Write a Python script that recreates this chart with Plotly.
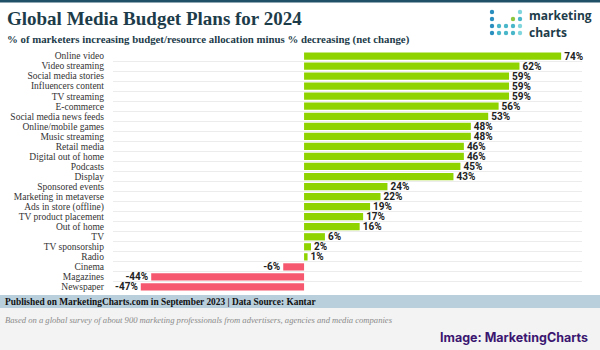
import plotly.graph_objects as go

categories = ["Online video", "Video streaming", "Social media stories", "Influencers content",
              "TV streaming", "E-commerce", "Social media news feeds", "Online/mobile games",
              "Music streaming", "Retail media", "Digital out of home", "Podcasts", "Display",
              "Sponsored events", "Marketing in metaverse", "Ads in store (offline)",
              "TV product placement", "Out of home", "TV", "TV sponsorship", "Radio",
              "Cinema", "Magazines", "Newspaper"]
values = [74, 62, 59, 59, 59, 56, 53, 48, 48, 46, 46, 45, 43, 24, 22, 19, 17, 16, 6, 2, 1, -6, -44, -47]

POS = "#8fd400"
NEG = "#f5586f"
colors = [POS if v >= 0 else NEG for v in values]
texts = [f"{v}%" for v in values]

fig = go.Figure(go.Bar(
    x=values, y=categories, orientation="h",
    marker=dict(color=colors, line=dict(width=0)),
    width=0.72,
    text=texts, textposition="outside", cliponaxis=False, constraintext="none",
    textfont=dict(family="Roboto", size=10, color="#222222", weight="bold"),
    hoverinfo="skip",
))

L, R, T, B = 113, 18, 51, 58
fig.update_layout(
    width=600, height=350,
    margin=dict(l=L, r=R, t=T, b=B, autoexpand=False),
    paper_bgcolor="white", plot_bgcolor="white",
    showlegend=False,
    xaxis=dict(range=[-55, 80], visible=False, showgrid=False, zeroline=False, fixedrange=True,
               automargin=False),
    yaxis=dict(autorange="reversed", tickson="boundaries", showgrid=True, gridcolor="#ececec",
               gridwidth=1, ticks="", ticklen=0, tickmode="array", tickvals=categories,
               ticktext=categories, automargin=False,
               tickfont=dict(family="Liberation Serif", size=9.5, color="#333333"),
               ticklabelstandoff=8, showline=False, zeroline=False, fixedrange=True),
)

PW, PH = 600 - L - R, 350 - T - B
def px(x):
    return (x - L) / PW
def py(y):
    return (350 - B - y) / PH

shapes = [
    dict(type="rect", xref="paper", yref="paper", x0=px(0), x1=px(600), y0=py(2.5), y1=py(0),
         fillcolor="#1f5068", line=dict(width=0)),
    dict(type="rect", xref="paper", yref="paper", x0=px(0), x1=px(600), y0=py(308), y1=py(295),
         fillcolor="#b9cfdc", line=dict(width=0)),
    dict(type="rect", xref="paper", yref="paper", x0=px(0), x1=px(600), y0=py(350), y1=py(308),
         fillcolor="#f3f3f3", line=dict(width=0)),
]

# logo dots
dot_cols = [492, 499, 506, 513, 520]
dot_rows = [12, 19, 26, 33]
dot_pattern = {
    (0, 0): "#2a8fbf", (0, 4): "#7fd6dc",
    (1, 0): "#2a8fbf", (1, 3): "#8dc63f", (1, 4): "#49b7c9",
}
for r in (2, 3):
    for c in range(5):
        dot_pattern[(r, c)] = ["#2a8fbf", "#49b7c9", "#49b7c9", "#49b7c9", "#7fd6dc"][c]
for (r, c), col in dot_pattern.items():
    cx, cy = dot_cols[c], dot_rows[r]
    shapes.append(dict(type="circle", xref="paper", yref="paper",
                       x0=px(cx - 2.2), x1=px(cx + 2.2), y0=py(cy + 2.2), y1=py(cy - 2.2),
                       fillcolor=col, line=dict(width=0)))

fig.update_layout(shapes=shapes)

annotations = [
    dict(text="<b>Global Media Budget Plans for 2024</b>", x=px(5), y=py(18), xanchor="left", yanchor="middle",
         font=dict(family="Liberation Serif", size=19, color="#1d3c4a")),
    dict(text="<b>% of marketers increasing budget/resource allocation minus % decreasing (net change)</b>",
         x=px(5), y=py(40), xanchor="left", yanchor="middle",
         font=dict(family="Liberation Serif", size=10.8, color="#1d3c4a")),
    dict(text="<b>marketing</b>", x=px(527), y=py(15), xanchor="left", yanchor="middle",
         font=dict(family="Open Sans", size=12, color="#1d3c4a")),
    dict(text="<b>charts</b>", x=px(527), y=py(32.5), xanchor="left", yanchor="middle",
         font=dict(family="Open Sans", size=12, color="#1d3c4a")),
    dict(text="<b>Published on MarketingCharts.com in September 2023 | Data Source: Kantar</b>",
         x=px(3), y=py(302), xanchor="left", yanchor="middle",
         font=dict(family="Liberation Serif", size=9.4, color="#111111")),
    dict(text="<i>Based on a global survey of about 900 marketing professionals from advertisers, agencies and media companies</i>",
         x=px(3), y=py(320), xanchor="left", yanchor="middle",
         font=dict(family="Liberation Serif", size=8.6, color="#8a8a8a")),
    dict(text="<b>Image: MarketingCharts</b>", x=px(590), y=py(337), xanchor="right", yanchor="middle",
         font=dict(family="Inter", size=12.5, color="#3b1670")),
]
for a in annotations:
    a.update(xref="paper", yref="paper", showarrow=False)
fig.update_layout(annotations=annotations)

fig.write_html("out.html")
